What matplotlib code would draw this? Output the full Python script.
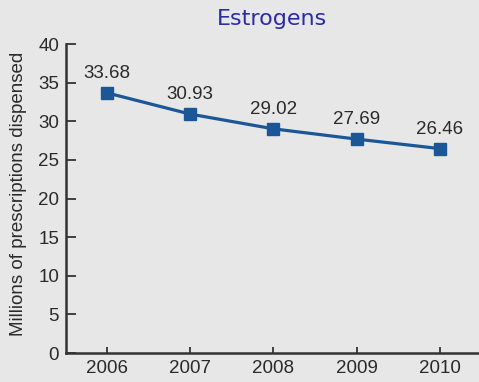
import matplotlib
matplotlib.use("Agg")
import matplotlib.pyplot as plt

# Estrogen prescriptions dispensed per year (millions)
years = [2006, 2007, 2008, 2009, 2010]
values = [33.68, 30.93, 29.02, 27.69, 26.46]
y_ticks = [0, 5, 10, 15, 20, 25, 30, 35, 40]

bg = "#e7e7e7"
line_color = "#1b5796"
title_color = "#2b2ba6"
axis_color = "#333333"
text_color = "#2a2a2a"

plt.rcParams["font.family"] = ["Liberation Sans", "DejaVu Sans"]

fig = plt.figure(figsize=(4.79, 3.82), dpi=100, facecolor=bg)
ax = fig.add_axes([0.1378, 0.0759, 0.8622, 0.8089], facecolor=bg)

ax.plot(years, values, color=line_color, linewidth=2.3, marker="s",
        markersize=8, markerfacecolor=line_color, markeredgecolor=line_color)

for x, v in zip(years, values):
    ax.annotate(f"{v:.2f}", (x, v), xytext=(0, 14), textcoords="offset points",
                ha="center", va="center", fontsize=13.5, color=text_color)

ax.set_xlim(2005.51, 2010.47)
ax.set_ylim(0, 40)
ax.set_xticks(years)
ax.set_yticks(y_ticks)

for side in ("top", "right"):
    ax.spines[side].set_visible(False)
for side in ("left", "bottom"):
    ax.spines[side].set_color(axis_color)
    ax.spines[side].set_linewidth(1.8)

ax.tick_params(axis="y", direction="in", length=7, width=1.3, pad=5,
               colors=axis_color, labelsize=13.5, labelcolor=text_color)
ax.tick_params(axis="x", direction="in", length=4.5, width=1.3, pad=5,
               colors=axis_color, labelsize=13.5, labelcolor=text_color)

ax.set_ylabel("Millions of prescriptions dispensed", fontsize=13.5,
              color=text_color)
ax.yaxis.set_label_coords(-0.095, 0.515)

fig.text(0.568, 0.95, "Estrogens", ha="center", va="center",
         fontsize=16, color=title_color, family="DejaVu Sans")

fig.savefig("out.png", dpi=100, facecolor=bg)
